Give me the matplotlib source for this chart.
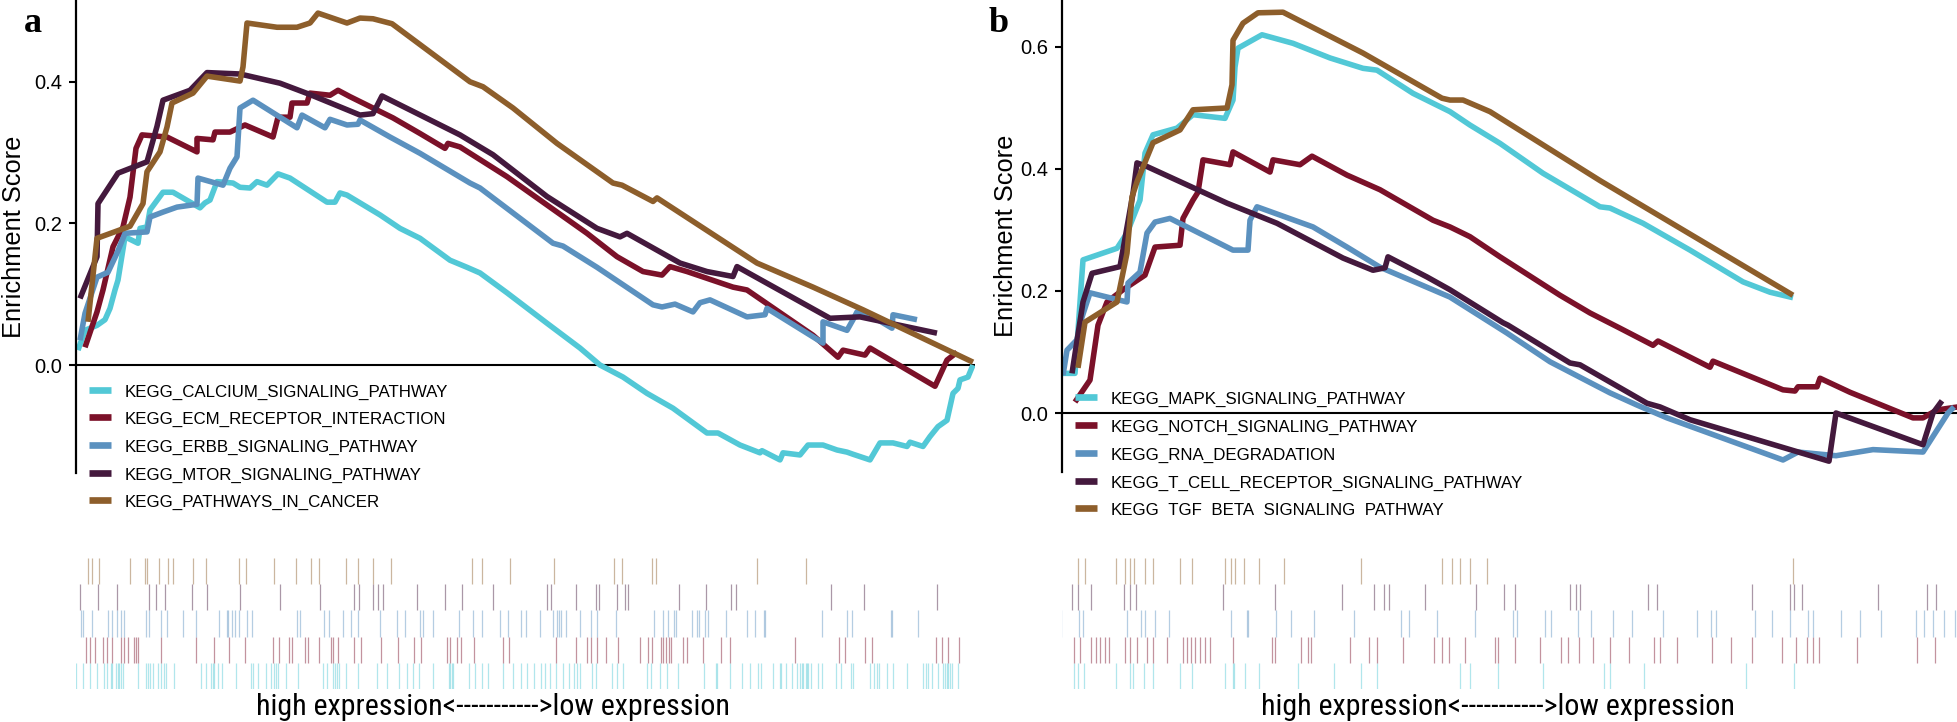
import matplotlib
matplotlib.use("Agg")
import matplotlib.pyplot as plt
from matplotlib.lines import Line2D
from matplotlib.transforms import Bbox, TransformedBbox
from matplotlib import font_manager

# ---------------- data (rank position, enrichment score) ----------------
# panel a
a_names = ["KEGG_CALCIUM_SIGNALING_PATHWAY", "KEGG_ECM_RECEPTOR_INTERACTION",
           "KEGG_ERBB_SIGNALING_PATHWAY", "KEGG_MTOR_SIGNALING_PATHWAY",
           "KEGG_PATHWAYS_IN_CANCER"]

a_calcium_x = [1, 8, 20, 28, 33, 38, 41, 48, 61, 63, 70, 73, 86, 96, 123, 128, 133, 140, 156, 163, 173, 180,
               190, 201, 213, 250, 258, 263, 270, 303, 323, 343, 373, 390, 403, 430, 470, 503, 523, 546, 570,
               596, 630, 641, 663, 683, 685, 703, 706, 723, 731, 746, 760, 770, 776, 793, 803, 816, 830, 833,
               846, 853, 861, 870, 876, 881, 883, 891, 896]
a_calcium_y = [0.021, 0.049, 0.056, 0.064, 0.080, 0.106, 0.120, 0.181, 0.172, 0.193, 0.195, 0.219, 0.244, 0.244,
               0.222, 0.229, 0.233, 0.259, 0.257, 0.251, 0.250, 0.259, 0.254, 0.270, 0.264, 0.230, 0.230, 0.243,
               0.240, 0.212, 0.193, 0.179, 0.148, 0.138, 0.130, 0.102, 0.059, 0.024, 0.000, -0.017, -0.040,
               -0.061, -0.096, -0.096, -0.113, -0.124, -0.121, -0.134, -0.124, -0.127, -0.113, -0.113, -0.120,
               -0.123, -0.126, -0.134, -0.110, -0.110, -0.115, -0.109, -0.115, -0.101, -0.087, -0.078, -0.040,
               -0.033, -0.021, -0.017, 0.000]

a_ecm_x = [8, 20, 26, 36, 46, 53, 59, 65, 90, 120, 120, 136, 138, 153, 168, 196, 201, 213, 215, 230, 233, 253,
           261, 273, 316, 343, 368, 371, 383, 430, 510, 540, 566, 585, 593, 610, 656, 670, 736, 761, 766, 788,
           793, 858, 870, 880]
a_ecm_y = [0.025, 0.075, 0.106, 0.167, 0.195, 0.237, 0.306, 0.325, 0.322, 0.301, 0.320, 0.318, 0.329, 0.329,
           0.339, 0.322, 0.350, 0.350, 0.370, 0.370, 0.384, 0.381, 0.388, 0.379, 0.349, 0.327, 0.306, 0.313,
           0.308, 0.266, 0.186, 0.153, 0.132, 0.127, 0.139, 0.132, 0.110, 0.106, 0.042, 0.011, 0.021, 0.014,
           0.024, -0.030, 0.007, 0.018]

a_erbb_x = [3, 8, 20, 31, 40, 48, 70, 73, 86, 100, 120, 121, 146, 153, 160, 163, 176, 220, 225, 248, 253, 270,
            281, 283, 313, 343, 393, 403, 476, 486, 520, 576, 585, 598, 616, 623, 633, 670, 688, 690, 746, 746,
            770, 776, 780, 790, 815, 816, 840]
a_erbb_y = [0.035, 0.073, 0.124, 0.131, 0.158, 0.186, 0.188, 0.209, 0.216, 0.223, 0.227, 0.264, 0.254, 0.278,
            0.294, 0.363, 0.374, 0.335, 0.353, 0.335, 0.347, 0.339, 0.340, 0.346, 0.322, 0.299, 0.257, 0.250,
            0.172, 0.168, 0.138, 0.085, 0.082, 0.086, 0.075, 0.088, 0.092, 0.068, 0.071, 0.080, 0.031, 0.061,
            0.049, 0.064, 0.075, 0.073, 0.052, 0.071, 0.064]

a_mtor_x = [3, 20, 21, 41, 70, 80, 86, 113, 130, 163, 203, 233, 283, 296, 305, 383, 403, 416, 470, 520, 543, 550,
            603, 630, 656, 660, 753, 783, 860]
a_mtor_y = [0.094, 0.153, 0.228, 0.271, 0.287, 0.337, 0.374, 0.388, 0.413, 0.411, 0.398, 0.382, 0.353, 0.355,
            0.380, 0.325, 0.308, 0.297, 0.238, 0.193, 0.181, 0.186, 0.144, 0.132, 0.125, 0.139, 0.066, 0.068,
            0.045]

a_cancer_x = [11, 20, 53, 66, 70, 83, 90, 95, 116, 130, 163, 166, 170, 200, 220, 233, 241, 270, 283, 296, 315,
              393, 406, 436, 480, 536, 545, 576, 580, 680, 736, 786, 896]
a_cancer_y = [0.061, 0.179, 0.196, 0.228, 0.273, 0.301, 0.336, 0.370, 0.384, 0.408, 0.401, 0.421, 0.483, 0.477,
              0.477, 0.483, 0.497, 0.483, 0.490, 0.489, 0.482, 0.400, 0.393, 0.363, 0.313, 0.257, 0.254, 0.231,
              0.236, 0.144, 0.110, 0.078, 0.004]

# gene-hit positions (rank) for panel a rug, one list per gene set
a_hits_cancer = [11, 15, 22, 53, 68, 70, 82, 91, 96, 116, 129, 162, 169, 197, 219, 234, 242, 269, 281, 296, 314,
                 395, 405, 433, 477, 537, 545, 575, 579, 680, 729]
a_hits_mtor = [3, 21, 40, 72, 79, 88, 115, 130, 163, 203, 243, 277, 282, 296, 301, 306, 340, 368, 385, 416, 470,
               474, 499, 519, 522, 540, 548, 551, 602, 629, 654, 659, 754, 787, 860]
a_hits_erbb = [4, 6, 15, 31, 35, 40, 44, 47, 69, 72, 84, 90, 106, 119, 142, 150, 151, 155, 158, 162, 170, 175,
               220, 223, 247, 252, 266, 274, 281, 303, 320, 328, 343, 346, 356, 382, 396, 405, 423, 431, 444, 449,
               463, 476, 480, 482, 484, 489, 503, 514, 520, 539, 577, 586, 591, 597, 599, 615, 620, 622, 628, 631,
               649, 670, 678, 687, 688, 745, 770, 775, 814, 815, 841]
a_hits_ecm = [9, 13, 18, 26, 30, 35, 44, 47, 51, 57, 59, 61, 84, 119, 137, 152, 168, 196, 202, 212, 215, 228, 231,
              242, 254, 256, 261, 277, 284, 304, 321, 337, 344, 370, 373, 380, 384, 397, 426, 432, 479, 499, 510,
              514, 520, 529, 541, 563, 571, 575, 584, 586, 589, 592, 594, 606, 610, 626, 644, 653, 718, 762, 768,
              788, 795, 859, 865, 871, 882]
a_hits_calcium = [-1, 6, 13, 20, 27, 30, 34, 35, 39, 41, 42, 44, 46, 61, 69, 71, 73, 76, 81, 84, 87, 89, 97, 124,
                  129, 134, 136, 137, 141, 145, 159, 174, 176, 181, 189, 194, 197, 199, 201, 209, 221, 246, 250,
                  256, 258, 260, 262, 269, 281, 300, 310, 322, 330, 336, 342, 356, 372, 373, 375, 376, 392, 398,
                  405, 411, 426, 436, 444, 450, 457, 464, 468, 473, 479, 486, 492, 497, 500, 503, 515, 519, 535,
                  540, 546, 570, 574, 583, 590, 601, 627, 639, 640, 653, 665, 673, 681, 684, 696, 703, 704, 709,
                  715, 720, 723, 725, 726, 729, 730, 731, 734, 741, 745, 759, 764, 774, 776, 793, 797, 800, 802,
                  810, 816, 830, 846, 849, 851, 855, 861, 866, 868, 870, 871, 873, 875, 881]

# panel b
b_names = ["KEGG_MAPK_SIGNALING_PATHWAY", "KEGG_NOTCH_SIGNALING_PATHWAY", "KEGG_RNA_DEGRADATION",
           "KEGG_T_CELL_RECEPTOR_SIGNALING_PATHWAY", "KEGG_TGF_BETA_SIGNALING_PATHWAY"]

b_mapk_x = [1, 13, 21, 55, 65, 78, 83, 91, 115, 131, 163, 171, 173, 176, 200, 231, 268, 301, 315, 351, 388, 408,
            438, 481, 538, 548, 581, 628, 681, 708, 731]
b_mapk_y = [0.065, 0.065, 0.251, 0.270, 0.295, 0.349, 0.426, 0.456, 0.467, 0.489, 0.483, 0.513, 0.567, 0.598,
            0.620, 0.606, 0.582, 0.565, 0.562, 0.524, 0.494, 0.472, 0.442, 0.393, 0.338, 0.336, 0.311, 0.267,
            0.215, 0.198, 0.189]

b_notch_x = [13, 28, 36, 45, 61, 83, 93, 118, 121, 131, 136, 141, 168, 171, 208, 211, 238, 250, 285, 318, 371,
             388, 408, 438, 498, 528, 558, 591, 596, 648, 651, 721, 733, 736, 755, 758, 788, 851, 861, 875, 896]
b_notch_y = [0.018, 0.054, 0.144, 0.182, 0.202, 0.226, 0.272, 0.275, 0.319, 0.349, 0.362, 0.415, 0.407, 0.428,
             0.395, 0.415, 0.407, 0.421, 0.390, 0.366, 0.316, 0.305, 0.289, 0.256, 0.193, 0.164, 0.139, 0.111,
             0.118, 0.075, 0.085, 0.038, 0.036, 0.043, 0.043, 0.057, 0.034, -0.008, -0.008, 0.005, 0.010]

b_rna_x = [1, 5, 15, 20, 28, 65, 66, 78, 85, 93, 108, 171, 186, 188, 195, 251, 285, 318, 388, 445, 488, 548, 575,
           605, 721, 736, 774, 811, 861, 886, 892]
b_rna_y = [0.062, 0.103, 0.120, 0.157, 0.197, 0.182, 0.213, 0.231, 0.295, 0.313, 0.319, 0.267, 0.267, 0.316,
           0.338, 0.305, 0.272, 0.239, 0.190, 0.131, 0.084, 0.033, 0.013, -0.008, -0.077, -0.064, -0.070,
           -0.060, -0.064, 0.000, 0.010]

b_tcell_x = [10, 21, 30, 58, 71, 75, 85, 165, 215, 281, 311, 323, 326, 365, 388, 441, 446, 508, 518, 585, 598,
             628, 767, 774, 861, 871, 880]
b_tcell_y = [0.065, 0.182, 0.229, 0.240, 0.360, 0.410, 0.404, 0.344, 0.311, 0.254, 0.234, 0.238, 0.256, 0.223,
             0.202, 0.148, 0.144, 0.082, 0.079, 0.016, 0.010, -0.011, -0.079, 0.000, -0.052, 0.000, 0.020]

b_tgf_x = [16, 23, 55, 65, 70, 75, 91, 118, 131, 165, 170, 171, 181, 196, 221, 301, 380, 388, 401, 428, 538, 731]
b_tgf_y = [0.074, 0.149, 0.182, 0.262, 0.354, 0.379, 0.443, 0.464, 0.497, 0.500, 0.538, 0.611, 0.639, 0.656,
           0.657, 0.590, 0.516, 0.513, 0.513, 0.494, 0.381, 0.193]

b_hits_tgf = [16, 23, 54, 63, 68, 72, 83, 91, 118, 130, 163, 169, 173, 182, 197, 222, 299, 380, 390, 398, 408,
              425, 731]
b_hits_tcell = [10, 16, 29, 62, 68, 74, 161, 213, 280, 312, 322, 327, 363, 414, 442, 453, 508, 514, 518, 586,
                595, 690, 728, 732, 740, 816, 865, 874]
b_hits_rna = [-1, 17, 21, 65, 79, 83, 93, 107, 169, 185, 186, 214, 229, 252, 292, 339, 347, 375, 413, 451, 455,
              483, 489, 516, 529, 551, 570, 601, 635, 649, 654, 693, 710, 728, 746, 751, 779, 798, 819, 854, 862,
              871, 882, 893]
b_hits_notch = [12, 18, 29, 34, 38, 43, 47, 63, 68, 75, 85, 91, 105, 121, 125, 129, 133, 138, 143, 148, 171, 210,
                213, 239, 246, 249, 288, 307, 315, 341, 372, 380, 387, 403, 433, 436, 453, 478, 499, 506, 517,
                531, 548, 567, 592, 598, 615, 650, 669, 690, 720, 734, 745, 751, 757, 795, 855, 873]
b_hits_mapk = [12, 16, 22, 54, 68, 71, 82, 91, 118, 130, 163, 171, 172, 183, 197, 236, 272, 299, 315, 398, 408,
               436, 481, 542, 548, 582, 684, 732]

y_ticks_a = [0.0, 0.2, 0.4]
y_ticks_b = [0.0, 0.2, 0.4, 0.6]
bottom_text = "high expression<----------->low expression"

# ---------------- style ----------------
colors = ["#52C8D6", "#7B1129", "#5B91BF", "#44193D", "#8D5E2B"]
W, H = 1958, 722
fig = plt.figure(figsize=(W / 100, H / 100), dpi=100)
SANS = "Liberation Sans"
plt.rcParams["font.family"] = [SANS, "DejaVu Sans"]


def px_axes(l, t, r, b):
    return fig.add_axes([l / W, 1 - b / H, (r - l) / W, (b - t) / H])


def fy(y):
    return 1 - y / H


# pick a narrow sans font for the bottom caption if one is installed
cond_family, cond_stretch = None, "normal"
for fam, st in [("Liberation Sans Narrow", "normal"), ("Roboto Condensed", "normal"),
                ("Open Sans Condensed", "normal"), ("Roboto", "condensed"), ("Open Sans", "condensed"),
                ("DejaVu Sans", "condensed")]:
    try:
        f = font_manager.findfont(font_manager.FontProperties(family=fam, stretch=st),
                                  fallback_to_default=False)
        low = f.lower()
        if "narrow" in low or "condensed" in low:
            cond_family, cond_stretch = fam, st
            break
    except Exception:
        pass

captions = []


def panel(box, xlim, ylim, yticks, series, names, hits, letter, letter_xy, leg_x, leg_rows,
          rug_box, text_x, label_px, clip_bottom=None):
    ax = px_axes(*box)
    ax.axhline(0, color="black", lw=1.5, zorder=1)
    for (xs, ys), c in zip(series, colors):
        ax.plot(xs, ys, color=c, lw=4.0, solid_joinstyle="round", solid_capstyle="butt", zorder=2)
    ax.set_xlim(*xlim)
    ax.set_ylim(*ylim)
    for s in ["top", "right", "bottom"]:
        ax.spines[s].set_visible(False)
    ax.spines["left"].set_linewidth(1.6)
    ax.set_xticks([])
    ax.set_yticks(yticks)
    ax.set_yticklabels([f"{v:.1f}" for v in yticks])
    ax.tick_params(axis="y", length=5, width=1.5, pad=5, labelsize=14.5)
    ax.set_ylabel("Enrichment Score", fontsize=18.3)
    ax.yaxis.set_label_coords((label_px - box[0]) / (box[2] - box[0]), 0.5)

    fig.text(letter_xy[0] / W, fy(letter_xy[1]), letter, family=["Liberation Serif", "DejaVu Serif"],
             fontweight="bold", fontsize=26, va="baseline", ha="left")

    # legend
    for i, (nm, c) in enumerate(zip(names, colors)):
        yr = leg_rows[i]
        fig.add_artist(Line2D([(leg_x) / W, (leg_x + 22) / W], [fy(yr), fy(yr)], color=c, lw=4.8,
                              solid_capstyle="butt"))
        t = fig.text((leg_x + 36) / W, fy(yr + 7), nm, fontsize=12.2, va="baseline", ha="left")
        if clip_bottom is not None:
            t.set_clip_box(TransformedBbox(Bbox.from_extents(0, fy(clip_bottom), 1, 1), fig.transFigure))
            t.set_clip_on(True)

    # rug
    rx = px_axes(*rug_box)
    rx.set_xlim(*xlim)
    rx.set_ylim(0, 5)
    rx.axis("off")
    for i, (h, c) in enumerate(zip(hits, colors)):
        rx.vlines(h, i, i + 1, color=c, lw=0.9, alpha=0.45)
    if cond_family:
        t = fig.text(text_x / W, fy(707), bottom_text, family=[cond_family, SANS], stretch=cond_stretch,
                     fontsize=21, ha="center", va="center")
    else:
        t = fig.text(text_x / W, fy(707), bottom_text, fontsize=18.2, ha="center", va="center")
    captions.append(t)
    return ax


panel((76, 0, 975, 473), (-1, 898), (-0.1525, 0.5155), y_ticks_a,
      [(a_calcium_x, a_calcium_y), (a_ecm_x, a_ecm_y), (a_erbb_x, a_erbb_y), (a_mtor_x, a_mtor_y),
       (a_cancer_x, a_cancer_y)],
      a_names,
      [a_hits_calcium, a_hits_ecm, a_hits_erbb, a_hits_mtor, a_hits_cancer],
      "a", (24, 32), 89, [390, 417, 445, 473, 500], (76, 558, 975, 689), 493, 26)

panel((1062, 0, 1958, 472), (0, 896), (-0.0967, 0.677), y_ticks_b,
      [(b_mapk_x, b_mapk_y), (b_notch_x, b_notch_y), (b_rna_x, b_rna_y), (b_tcell_x, b_tcell_y),
       (b_tgf_x, b_tgf_y)],
      b_names,
      [b_hits_mapk, b_hits_notch, b_hits_rna, b_hits_tcell, b_hits_tgf],
      "b", (989, 32), 1075, [397, 425, 453, 481, 508], (1062, 558, 1958, 689), 1498, 1018,
      clip_bottom=516)

# fit the caption width to the reference (about 472 px wide)
fig.canvas.draw()
for t in captions:
    w = t.get_window_extent().width
    if w > 0:
        t.set_fontsize(t.get_fontsize() * 472.0 / w)

fig.savefig("out.png", dpi=100)
